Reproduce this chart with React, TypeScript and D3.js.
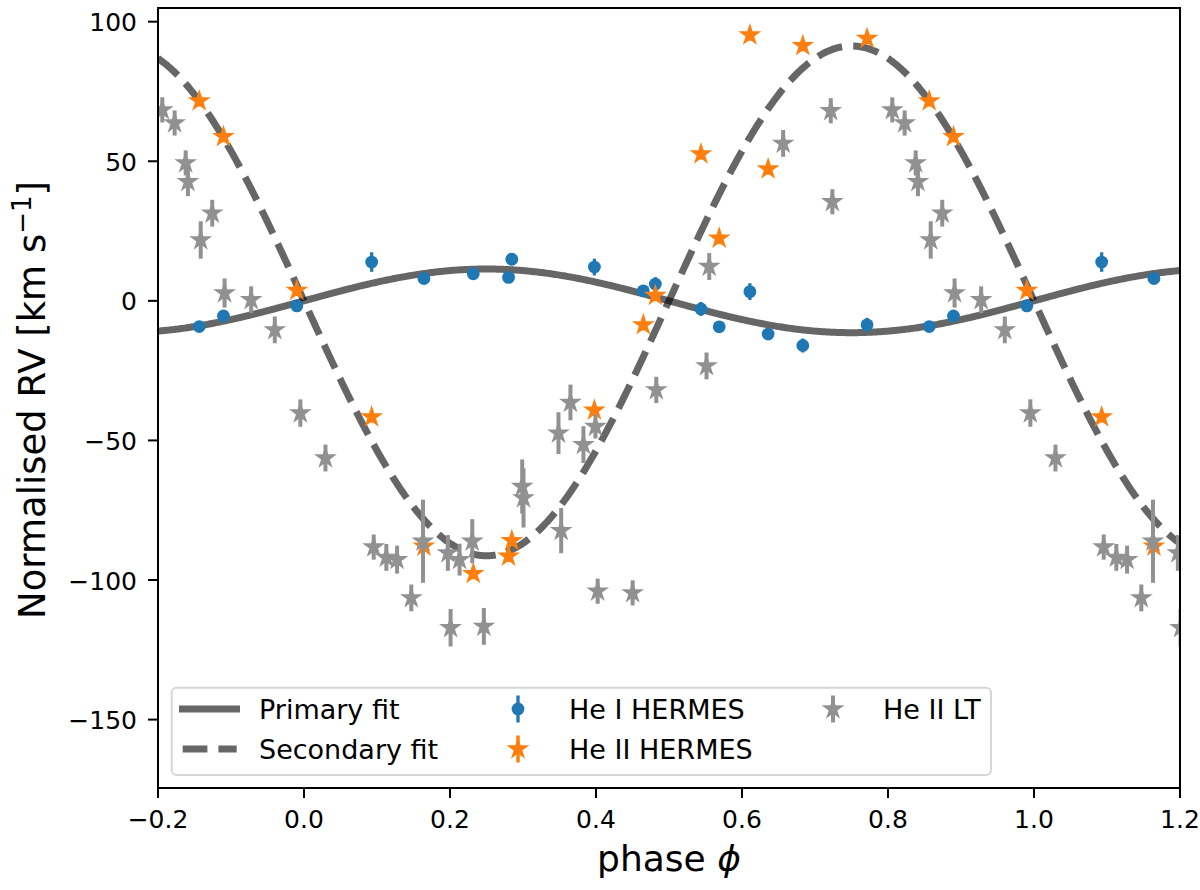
import React from 'react';
import * as d3 from 'd3';

// ---------------- data ----------------
const X_TICKS = [-0.2, 0.0, 0.2, 0.4, 0.6, 0.8, 1.0, 1.2];
const Y_TICKS = [-150, -100, -50, 0, 50, 100];

// fitted semi-amplitudes (km/s) of the two sinusoidal orbital fits
const K_PRIMARY = 11.4;
const K_SECONDARY = 91.3;

// HERMES epochs (orbital phase in [0,1))
const PHASE_HERMES = [0.8565, 0.8897, 0.9902, 0.0927, 0.1643, 0.2319, 0.2847, 0.2802, 0.3978, 0.4648, 0.4813, 0.5438, 0.5688, 0.6108, 0.6358, 0.6833, 0.7713];
const RV_HEI = [-9.2, -5.4, -1.8, 13.9, 8.0, 9.7, 14.9, 8.4, 12.1, 3.6, 6.0, -2.9, -9.3, 3.3, -11.9, -16.0, -8.6];
const ERR_HEI = [1.5, 1.5, 1.5, 3.5, 1.5, 1.5, 1.5, 1.5, 3.0, 1.5, 2.5, 2.5, 1.5, 3.0, 1.5, 2.5, 2.5];
const RV_HEII_HERMES = [71.6, 58.8, 3.7, -41.6, -87.9, -97.7, -85.9, -91.5, -39.2, -8.6, 1.9, 52.6, 22.4, 95.2, 47.2, 91.4, 94.0];
const ERR_HEII_HERMES = [2, 2, 2, 2, 2, 2, 2, 2, 2, 2, 2, 2, 2, 2, 2, 2, 2];

// LT epochs
const PHASE_LT = [0.0294, 0.0955, 0.1128, 0.1275, 0.147, 0.163, 0.1971, 0.2008, 0.2131, 0.2305, 0.2464, 0.2989, 0.3007, 0.3486, 0.3523, 0.365, 0.3828, 0.3992, 0.4023, 0.4502, 0.4826, 0.5514, 0.5551, 0.6564, 0.7216, 0.7238, 0.8059, 0.8228, 0.8379, 0.841, 0.8585, 0.8743, 0.8912, 0.9276, 0.96, 0.995];
const RV_HEII_LT = [-56.3, -88.2, -91.9, -92.7, -106.4, -86.1, -90.3, -117.1, -92.7, -86.1, -116.6, -66.5, -70.6, -47.4, -82.3, -36.4, -51.5, -45.0, -104.0, -104.6, -31.9, -23.3, 12.3, 56.4, 68.1, 35.5, 68.4, 63.7, 49.4, 42.7, 21.8, 31.4, 2.8, 0.4, -10.4, -40.2];
const ERR_HEII_LT = [4.8, 4.5, 4.8, 5.0, 4.8, 14.9, 6.4, 6.7, 5.7, 7.9, 6.6, 9.7, 10.6, 7.5, 8.1, 6.4, 6.6, 4.3, 4.5, 4.5, 4.7, 4.8, 4.8, 4.8, 4.5, 4.5, 4.5, 4.5, 4.5, 5.2, 6.7, 4.8, 5.2, 4.8, 4.8, 4.9];

const LEGEND_LINES = ['Primary fit', 'Secondary fit'];
const LEGEND_SERIES = ['He I HERMES', 'He II HERMES', 'He II LT'];

// ---------------- layout ----------------
const W = 1200;
const H = 890;
const PL = 158, PR = 1180, PT = 8, PB = 788;
const FONT = 'DejaVu Sans, Liberation Sans, sans-serif';
const BLUE = '#1f77b4';
const ORANGE = '#ff7f0e';
const GRAY = '#919191';

const x = d3.scaleLinear().domain([-0.2, 1.2]).range([PL, PR]);
const y = d3.scaleLinear().domain([-174.5, 104.9]).range([PB, PT]);

type Pt = { p: number; v: number; e: number };
function folded(phases: number[], rv: number[], err: number[]): Pt[] {
  const out: Pt[] = [];
  phases.forEach((ph, i) => {
    for (const k of [-1, 0, 1]) {
      const p = ph + k;
      if (p >= -0.23 && p <= 1.23) out.push({ p, v: rv[i], e: err[i] });
    }
  });
  return out;
}

const ptsHeI = folded(PHASE_HERMES, RV_HEI, ERR_HEI);
const ptsHeIIH = folded(PHASE_HERMES, RV_HEII_HERMES, ERR_HEII_HERMES);
const ptsLT = folded(PHASE_LT, RV_HEII_LT, ERR_HEII_LT);

const phaseGrid = d3.range(-0.2, 1.2001, 0.002);
const line = d3.line<number[]>().x(d => x(d[0])).y(d => y(d[1]));
const primaryPath = line(phaseGrid.map(p => [p, K_PRIMARY * Math.sin(2 * Math.PI * p)])) || '';
const secondaryPath = line(phaseGrid.map(p => [p, -K_SECONDARY * Math.sin(2 * Math.PI * p)])) || '';

const STAR_R = 12;
const starPath = d3.symbol().type(d3.symbolStar).size((STAR_R * STAR_R) / 0.8908130915292852)() || '';
const CIRC_R = 6.4;

const fmtX = (v: number) => d3.format('.1f')(v).replace('-', '\u2212');
const fmtY = (v: number) => d3.format('d')(v).replace('-', '\u2212');

const LW = 7;
const DASH = `${3.7 * LW} ${1.6 * LW}`;
const LEG_FS = 27;

function ErrPoints({ pts, color, kind, ew }: { pts: Pt[]; color: string; kind: 'circle' | 'star'; ew: number }) {
  return (
    <g>
      {pts.map((d, i) => (
        <line key={'e' + i} x1={x(d.p)} x2={x(d.p)} y1={y(d.v - d.e)} y2={y(d.v + d.e)} stroke={color} strokeWidth={ew} />
      ))}
      {pts.map((d, i) =>
        kind === 'circle' ? (
          <circle key={'m' + i} cx={x(d.p)} cy={y(d.v)} r={CIRC_R} fill={color} />
        ) : (
          <path key={'m' + i} d={starPath} transform={`translate(${x(d.p)},${y(d.v)})`} fill={color} />
        )
      )}
    </g>
  );
}

export default function App() {
  const legendRow = [709, 749];
  return (
    <svg width={W} height={H} style={{ position: 'absolute', left: 0, top: 0, background: '#fff' }} fontFamily={FONT}>
      <defs>
        <clipPath id="plotclip">
          <rect x={PL} y={PT} width={PR - PL} height={PB - PT} />
        </clipPath>
      </defs>
      <rect x={0} y={0} width={W} height={H} fill="#fff" />

      <g clipPath="url(#plotclip)">
        <path d={primaryPath} fill="none" stroke="#000" strokeOpacity={0.6} strokeWidth={LW} />
        <path d={secondaryPath} fill="none" stroke="#000" strokeOpacity={0.6} strokeWidth={LW} strokeDasharray={DASH} />
        <ErrPoints pts={ptsHeI} color={BLUE} kind="circle" ew={3.3} />
        <ErrPoints pts={ptsHeIIH} color={ORANGE} kind="star" ew={3.5} />
        <ErrPoints pts={ptsLT} color={GRAY} kind="star" ew={4} />
      </g>

      {/* spines */}
      <rect x={PL} y={PT} width={PR - PL} height={PB - PT} fill="none" stroke="#000" strokeWidth={2} />

      {/* x ticks */}
      {X_TICKS.map(t => (
        <g key={'x' + t}>
          <line x1={x(t)} x2={x(t)} y1={PB} y2={PB + 10} stroke="#000" strokeWidth={2} />
          <text x={x(t)} y={828} fontSize={25} textAnchor="middle" fill="#000">{fmtX(t)}</text>
        </g>
      ))}
      {/* y ticks */}
      {Y_TICKS.map(t => (
        <g key={'y' + t}>
          <line x1={PL - 10} x2={PL} y1={y(t)} y2={y(t)} stroke="#000" strokeWidth={2} />
          <text x={137} y={y(t) + 9.5} fontSize={25} textAnchor="end" fill="#000">{fmtY(t)}</text>
        </g>
      ))}

      {/* axis labels */}
      <text x={(PL + PR) / 2} y={871} fontSize={36} textAnchor="middle" fill="#000">
        phase <tspan fontStyle="italic">ϕ</tspan>
      </text>
      <text transform={`translate(45,${(PT + PB) / 2 + 2}) rotate(-90)`} fontSize={37} textAnchor="middle" fill="#000">
        Normalised RV [km s<tspan fontSize={26} dy={-14}>−1</tspan><tspan dy={14}>]</tspan>
      </text>

      {/* legend */}
      <g>
        <rect x={171.7} y={687.7} width={819.3} height={87.3} rx={5} fill="#fff" fillOpacity={0.8} stroke="#cccccc" strokeOpacity={0.8} strokeWidth={2} />
        <line x1={179} x2={240} y1={legendRow[0]} y2={legendRow[0]} stroke="#000" strokeOpacity={0.6} strokeWidth={LW} />
        <line x1={182.7} x2={236.7} y1={legendRow[1]} y2={legendRow[1]} stroke="#000" strokeOpacity={0.6} strokeWidth={LW} strokeDasharray="24.7 11" />
        <text x={259} y={legendRow[0] + 10} fontSize={LEG_FS} fill="#000">{LEGEND_LINES[0]}</text>
        <text x={259} y={legendRow[1] + 10} fontSize={LEG_FS} fill="#000">{LEGEND_LINES[1]}</text>

        <line x1={518} x2={518} y1={legendRow[0] - 13.5} y2={legendRow[0] + 13.5} stroke={BLUE} strokeWidth={3.3} />
        <circle cx={518} cy={legendRow[0]} r={CIRC_R} fill={BLUE} />
        <text x={569} y={legendRow[0] + 10} fontSize={LEG_FS} fill="#000">{LEGEND_SERIES[0]}</text>

        <line x1={518} x2={518} y1={legendRow[1] - 13.5} y2={legendRow[1] + 13.5} stroke={ORANGE} strokeWidth={3.5} />
        <path d={starPath} transform={`translate(518,${legendRow[1]})`} fill={ORANGE} />
        <text x={569} y={legendRow[1] + 10} fontSize={LEG_FS} fill="#000">{LEGEND_SERIES[1]}</text>

        <line x1={833} x2={833} y1={legendRow[0] - 13.5} y2={legendRow[0] + 13.5} stroke={GRAY} strokeWidth={4} />
        <path d={starPath} transform={`translate(833,${legendRow[0]})`} fill={GRAY} />
        <text x={883} y={legendRow[0] + 10} fontSize={LEG_FS} fill="#000">{LEGEND_SERIES[2]}</text>
      </g>
    </svg>
  );
}
